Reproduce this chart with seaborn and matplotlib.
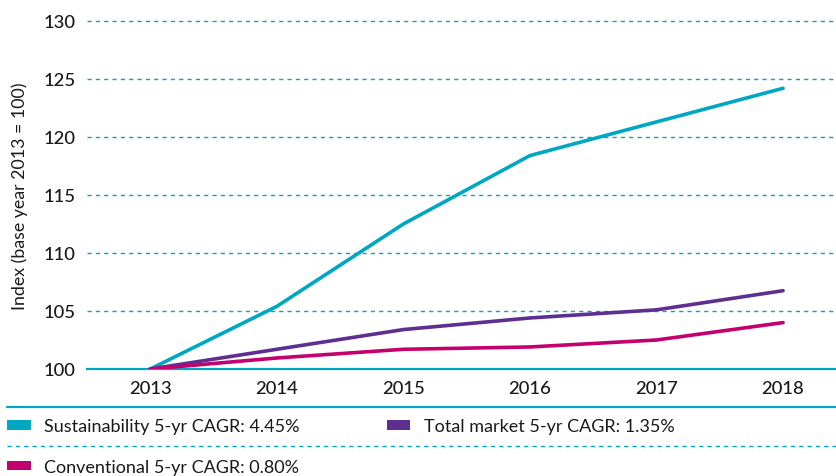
import numpy as np
import pandas as pd
import matplotlib
matplotlib.use("Agg")
import matplotlib.pyplot as plt
from matplotlib.lines import Line2D
from matplotlib.patches import Patch
from matplotlib.ticker import FixedLocator
import seaborn as sns

years = [2013, 2014, 2015, 2016, 2017, 2018]
sustainability = [100.0, 105.4, 112.5, 118.4, 121.3, 124.2]
total_market = [100.0, 101.7, 103.4, 104.4, 105.1, 106.75]
conventional = [100.0, 100.95, 101.7, 101.9, 102.5, 104.0]
series_names = ["Sustainability 5-yr CAGR: 4.45%",
                "Total market 5-yr CAGR: 1.35%",
                "Conventional 5-yr CAGR: 0.80%"]
y_ticks = [100, 105, 110, 115, 120, 125, 130]
y_label = "Index (base year 2013 = 100)"

TEAL = "#00a7c2"
PURPLE = "#5e2f91"
MAGENTA = "#c4006e"
TEXT = "#1a1a1a"

df = pd.DataFrame({
    "year": years * 3,
    "value": sustainability + total_market + conventional,
    "series": [series_names[0]] * 6 + [series_names[1]] * 6 + [series_names[2]] * 6,
})

sns.set_theme(style="white")
plt.rcParams["font.family"] = ["Lato", "DejaVu Sans"]

fig = plt.figure(figsize=(8.36, 4.77), dpi=100)
ax = fig.add_axes([87 / 836, 1 - 370 / 477, 1 - 87 / 836, (370 - 22) / 477])

palette = {series_names[0]: TEAL, series_names[1]: PURPLE, series_names[2]: MAGENTA}
sns.lineplot(data=df, x="year", y="value", hue="series", palette=palette,
             linewidth=2.6, ax=ax, legend=False, zorder=3)

ax.set_ylim(100, 130)
ax.set_xlim(2012.5, 2018 + 53 / 126.7)
ax.set_yticks(y_ticks)
ax.set_xticks(years)
ax.set_xticklabels([str(y) for y in years])
ax.xaxis.set_minor_locator(FixedLocator([y - 0.5 for y in years] + [2018.5]))

for v in y_ticks[1:]:
    ax.axhline(v, color=TEAL, lw=1.0, ls=(0, (3, 3)), zorder=1, clip_on=False)

for s in ["left", "right", "top"]:
    ax.spines[s].set_visible(False)
ax.spines["bottom"].set_color(TEAL)
ax.spines["bottom"].set_linewidth(1.6)

ax.tick_params(axis="x", which="major", length=0, pad=8, labelsize=13.3, labelcolor=TEXT)
ax.tick_params(axis="x", which="minor", length=6, width=1.2, color=TEAL, direction="out")
ax.tick_params(axis="y", length=0, pad=8, labelsize=13.3, labelcolor=TEXT)
for lab in ax.get_xticklabels() + ax.get_yticklabels():
    lab.set_fontweight("medium")

ax.set_xlabel("")
ax.set_ylabel(y_label, fontsize=12.8, color=TEXT, labelpad=11)

# Legend separators
fig.add_artist(Line2D([7 / 836, 1], [1 - 408 / 477] * 2, color=TEAL, lw=1.6,
                      transform=fig.transFigure))
fig.add_artist(Line2D([7 / 836, 1], [1 - 447 / 477] * 2, color=TEAL, lw=1.0,
                      ls=(0, (3, 3)), transform=fig.transFigure))

handles = [Patch(facecolor=TEAL, edgecolor="none"),
           Patch(facecolor=MAGENTA, edgecolor="none"),
           Patch(facecolor=PURPLE, edgecolor="none")]
labels = [series_names[0], series_names[2], series_names[1]]
leg = fig.legend(handles, labels, ncol=2, loc="upper left",
                 bbox_to_anchor=(2 / 836, 1 - 414 / 477), frameon=False,
                 fontsize=13, handlelength=1.3, handleheight=0.4,
                 handletextpad=0.75, labelspacing=1.35, columnspacing=4.8,
                 borderaxespad=0, borderpad=0.3)
for t in leg.get_texts():
    t.set_color(TEXT)

fig.savefig("out.png", dpi=100)
